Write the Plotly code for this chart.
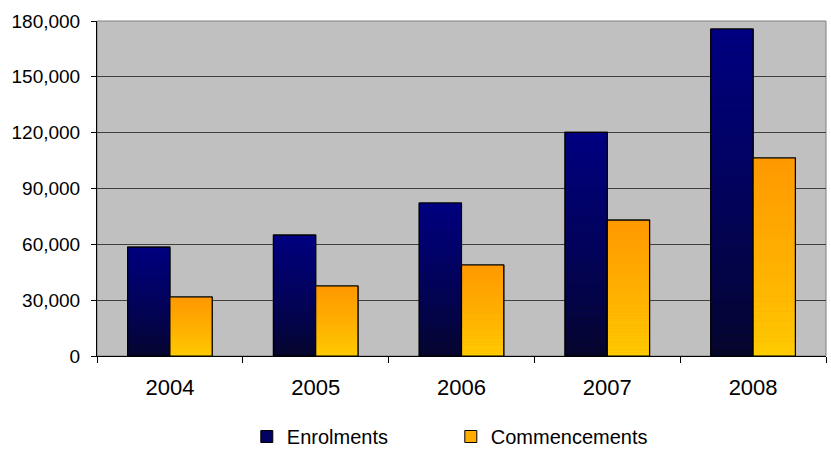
import plotly.graph_objects as go

years = ["2004", "2005", "2006", "2007", "2008"]
enrolments = [58500, 65000, 82200, 120200, 175700]
commencements = [31700, 37600, 48900, 73000, 106400]
series_names = ["Enrolments", "Commencements"]

# gradient colours (top, bottom)
enrol_top, enrol_bottom = (0, 0, 128), (5, 5, 42)
comm_top, comm_bottom = (255, 153, 0), (255, 204, 0)

N = 40
W = 0.29

def lerp(c1, c2, t):
    return "rgb(%d,%d,%d)" % tuple(round(a + (b - a) * t) for a, b in zip(c1, c2))

fig = go.Figure()

def add_series(values, name, top, bottom, offset):
    fig.add_trace(go.Bar(x=years, y=values, name=name, width=W, offset=offset,
                         marker=dict(color=lerp(top, bottom, 0.35), line=dict(color="black", width=1)),
                         showlegend=True))
    for k in range(N):
        t = k / (N - 1)  # 0 bottom -> 1 top
        seg = [v / N for v in values]
        base = [v * k / N for v in values]
        fig.add_trace(go.Bar(x=years, y=seg, base=base, width=W, offset=offset,
                             marker=dict(color=lerp(bottom, top, t ** 0.8), line=dict(width=0)),
                             showlegend=False, hoverinfo="skip"))
    fig.add_trace(go.Bar(x=years, y=values, width=W, offset=offset,
                         marker=dict(color="rgba(0,0,0,0)", line=dict(color="black", width=1.2)),
                         showlegend=False, hoverinfo="skip"))

add_series(enrolments, series_names[0], enrol_top, enrol_bottom, -W)
add_series(commencements, series_names[1], comm_top, comm_bottom, 0)

fig.update_layout(
    width=831, height=450,
    margin=dict(l=97, r=5, t=21, b=94),
    paper_bgcolor="white",
    plot_bgcolor="#C0C0C0",
    barmode="overlay",
    font=dict(family="Arial, Liberation Sans, sans-serif", size=16, color="black"),
    showlegend=True,
    legend=dict(orientation="h", xref="container", yref="container",
                x=0.297, xanchor="left", y=0.03, yanchor="middle",
                entrywidth=159, entrywidthmode="pixels",
                font=dict(size=20), bgcolor="rgba(0,0,0,0)"),
    xaxis=dict(type="category", showline=True, linecolor="black", linewidth=1,
               ticks="outside", tickson="boundaries", ticklen=6, tickcolor="black",
               showgrid=False, tickfont=dict(size=22), ticklabelstandoff=12),
    yaxis=dict(range=[0, 180000], dtick=30000, tickformat=",d", showline=True,
               linecolor="black", linewidth=1, ticks="outside", ticklen=5, tickcolor="black",
               showgrid=True, gridcolor="#404040", gridwidth=1, zeroline=False,
               tickfont=dict(size=19), ticklabelstandoff=7),
    shapes=[dict(type="rect", xref="paper", yref="paper", x0=0, x1=1, y0=0, y1=1,
                 line=dict(color="#808080", width=1), layer="below")],
)

fig.write_html("out.html", config={"displayModeBar": False},
               post_script="document.body.style.margin='0px';")
